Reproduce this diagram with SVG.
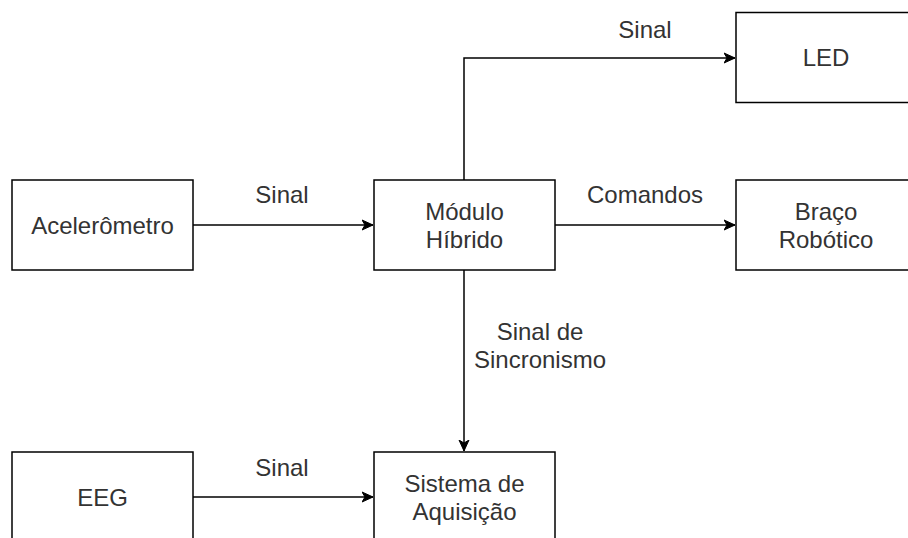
<svg xmlns="http://www.w3.org/2000/svg" width="908" height="538" viewBox="0 0 908 538">
<style>
.box{fill:#fff;stroke:#000;stroke-width:1.5}
.t{font-family:"Liberation Sans",Arial,sans-serif;font-size:24px;fill:#333;text-anchor:middle}
.e{fill:none;stroke:#000;stroke-width:1.5;marker-end:url(#arr)}
</style>
<defs>
<marker id="arr" markerUnits="userSpaceOnUse" markerWidth="12" markerHeight="12" viewBox="0 -6 12 12" refX="11" refY="0" orient="auto">
<path d="M0,-5 L11,0 L0,5 L3,0 Z" fill="#000" stroke="#000" stroke-width="1"/>
</marker>
</defs>
<rect width="908" height="538" fill="#fff"/>
<g id="connectors">
<path class="e" d="M193,225 L373,225"/>
<text class="t" x="282" y="203">Sinal</text>
<path class="e" d="M555,225 L735,225"/>
<text class="t" x="645" y="203">Comandos</text>
<path class="e" d="M464,180 L464,58 L735,58"/>
<text class="t" x="645" y="38">Sinal</text>
<path class="e" d="M464,270 L464,451"/>
<text class="t" x="540" y="340">Sinal de</text>
<text class="t" x="540" y="368">Sincronismo</text>
<path class="e" d="M193,497 L373,497"/>
<text class="t" x="282" y="476">Sinal</text>
</g>
<g id="acelerometro">
<rect class="box" x="12" y="180" width="181" height="90"/>
<text class="t" x="102.5" y="233.5">Acelerômetro</text>
</g>
<g id="modulo">
<rect class="box" x="374" y="180" width="181" height="90"/>
<text class="t" x="464.5" y="219.5">Módulo</text>
<text class="t" x="464.5" y="247.5">Híbrido</text>
</g>
<g id="led">
<rect class="box" x="736" y="12.5" width="181" height="90"/>
<text class="t" x="826" y="66">LED</text>
</g>
<g id="braco">
<rect class="box" x="736" y="180" width="181" height="90"/>
<text class="t" x="826" y="219.5">Braço</text>
<text class="t" x="826" y="247.5">Robótico</text>
</g>
<g id="eeg">
<rect class="box" x="12" y="452" width="181" height="90"/>
<text class="t" x="102.5" y="505.5">EEG</text>
</g>
<g id="sistema">
<rect class="box" x="374" y="452" width="181" height="90"/>
<text class="t" x="464.5" y="491.5">Sistema de</text>
<text class="t" x="464.5" y="519.5">Aquisição</text>
</g>
</svg>
